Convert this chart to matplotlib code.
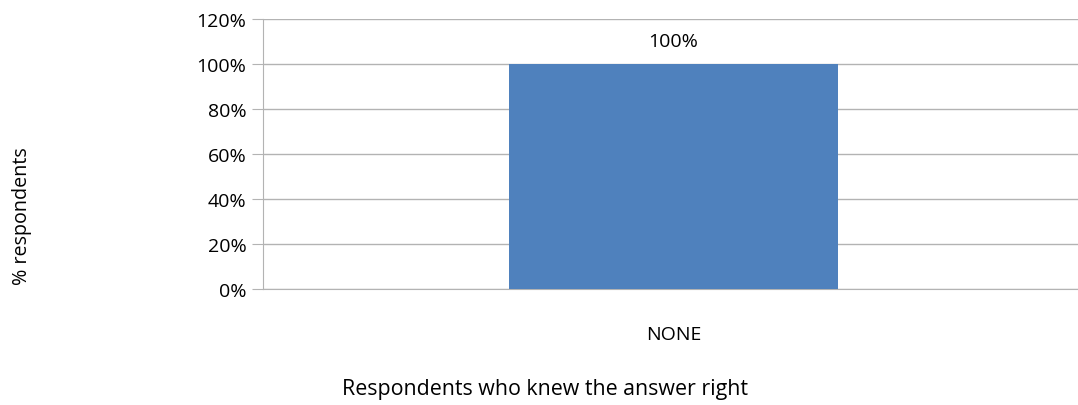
import matplotlib.pyplot as plt
from matplotlib.ticker import PercentFormatter

categories = ["NONE"]
values = [100]
y_ticks = [0, 20, 40, 60, 80, 100, 120]

plt.rcParams['font.family'] = ['Open Sans', 'DejaVu Sans']

fig = plt.figure(figsize=(10.78, 4.06), dpi=100)
ax = fig.add_axes([263 / 1078, 1 - 290 / 406, (1084 - 263) / 1078, (290 - 20) / 406])

bars = ax.bar(range(len(categories)), values, width=0.4, color="#4F81BD", zorder=3)
for b, v in zip(bars, values):
    ax.text(b.get_x() + b.get_width() / 2, v + 6, f"{v}%", ha="center", va="bottom", fontsize=14)

ax.set_xlim(-0.5, 0.5)
ax.set_ylim(0, 120)
ax.set_yticks(y_ticks)
ax.yaxis.set_major_formatter(PercentFormatter(decimals=0))
ax.set_xticks(range(len(categories)))
ax.set_xticklabels(categories)
ax.grid(axis="y", color="#b3b3b3", linewidth=1, zorder=0)

for s in ["top", "right"]:
    ax.spines[s].set_visible(False)
ax.spines["left"].set_color("#b3b3b3")
ax.spines["bottom"].set_color("#b3b3b3")
ax.tick_params(axis="y", length=8, color="#b3b3b3", labelsize=14, pad=4)
ax.tick_params(axis="x", length=0, labelsize=14, pad=26)

fig.text(545 / 1078, 1 - 390 / 406, "Respondents who knew the answer right", ha="center", va="center", fontsize=15.4)
fig.text(22 / 1078, 1 - 216 / 406, "% respondents", rotation=90, ha="center", va="center", fontsize=14.2)

fig.savefig("out.png", dpi=100)
